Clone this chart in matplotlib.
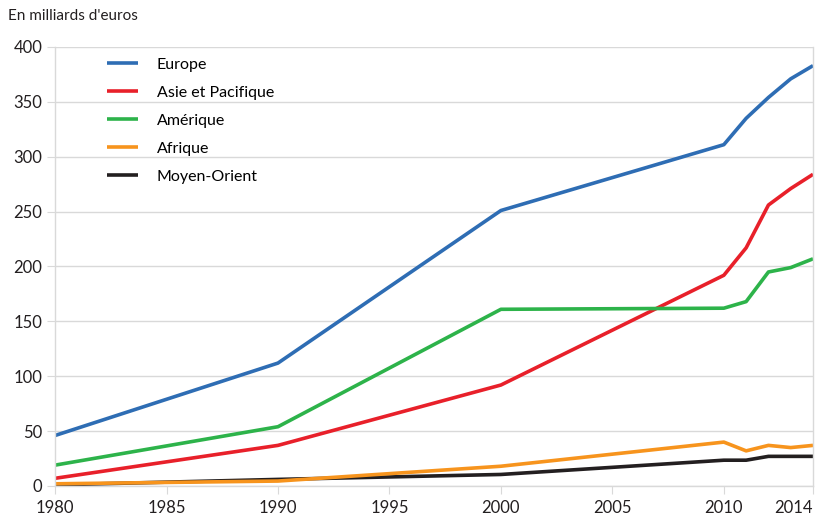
import matplotlib.pyplot as plt

years = [1980, 1990, 2000, 2010, 2011, 2012, 2013, 2014]
europe = [46, 112, 251, 311, 335, 354, 371, 383]
asie = [7, 37, 92, 192, 217, 256, 271, 284]
amerique = [19, 54, 161, 162, 168, 195, 199, 207]
afrique = [2, 4.5, 18, 40, 32, 37, 35, 37]
moyen_orient = [1, 6, 10.5, 23.5, 23.5, 27, 27, 27]

series = [
    ("Europe", europe, "#2E6DB4"),
    ("Asie et Pacifique", asie, "#E8202A"),
    ("Amérique", amerique, "#2DB34A"),
    ("Afrique", afrique, "#F7941D"),
    ("Moyen-Orient", moyen_orient, "#231F20"),
]
xticks = [1980, 1985, 1990, 1995, 2000, 2005, 2010, 2014]
yticks = [0, 50, 100, 150, 200, 250, 300, 350, 400]

plt.rcParams['font.family'] = ['Lato', 'DejaVu Sans']
fig = plt.figure(figsize=(8.19, 5.21), dpi=100)
ax = fig.add_axes([0.0672, 0.0672, 0.9255, 0.8426])

# black drawn under orange, like the original
for name, vals, col in [series[0], series[1], series[2], series[4], series[3]]:
    ax.plot(years, vals, color=col, lw=2.6, label=name, solid_capstyle='butt')

ax.set_xlim(1980, 2014)
ax.set_ylim(0, 400)
ax.set_xticks(xticks)
ax.set_yticks(yticks)
ax.grid(axis='y', color='#D9D9D9', lw=1)
ax.set_axisbelow(True)
ax.spines['top'].set_visible(False)
for s in ['left', 'right', 'bottom']:
    ax.spines[s].set_color('#D9D9D9')
    ax.spines[s].set_linewidth(1)
ax.tick_params(axis='both', length=6, color='#D9D9D9', labelcolor='#231F20', labelsize=12)
ax.tick_params(axis='y', pad=3)
ax.tick_params(axis='x', pad=4)
ax.get_xticklabels()[-1].set_horizontalalignment('right')

handles, labels = ax.get_legend_handles_labels()
order = [0, 1, 2, 4, 3]
ax.legend([handles[i] for i in order], [labels[i] for i in order],
          loc='upper left', bbox_to_anchor=(0.05, 1.008), frameon=False,
          fontsize=11.5, handlelength=1.95, handletextpad=1.15, labelspacing=0.86)

fig.text(0.01, 0.97, "En milliards d'euros", fontsize=11, color='#231F20', va='center')

fig.savefig('out.png', dpi=100)
